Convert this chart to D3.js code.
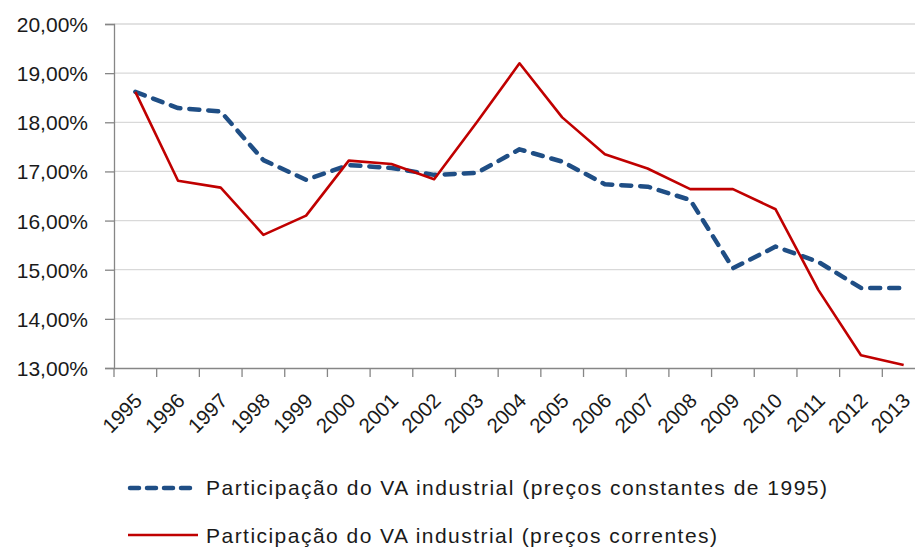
<!DOCTYPE html>
<html lang="pt">
<head>
    <meta charset="UTF-8">
    <title>Participação do VA industrial</title>
    <script src="https://d3js.org/d3.v7.min.js"></script>
    <style>
        body { margin: 0; background: #fff; }
        text { font-family: "Liberation Sans", Arial, sans-serif; fill: #1a1a1a; }
    </style>
</head>
<body>

<script>

    // data
    var years = ["1995","1996","1997","1998","1999","2000","2001","2002","2003","2004",
                 "2005","2006","2007","2008","2009","2010","2011","2012","2013"];
    var constantes = [18.62, 18.29, 18.22, 17.23, 16.83, 17.13, 17.07, 16.93, 16.97, 17.45,
                      17.20, 16.74, 16.69, 16.42, 15.03, 15.47, 15.16, 14.63, 14.63];
    var correntes = [18.62, 16.81, 16.67, 15.71, 16.10, 17.22, 17.15, 16.84, 18.00, 19.20,
                     18.10, 17.35, 17.06, 16.64, 16.64, 16.23, 14.59, 13.26, 13.06];
    var yTicks = [13, 14, 15, 16, 17, 18, 19, 20];
    var legendLabels = ["Participação do VA industrial (preços constantes de 1995)",
                        "Participação do VA industrial (preços correntes)"];
    var legendWidths = [621, 511];

    var xSize = 915;
    var ySize = 547;

    var svg = d3.select("body")
        .append("svg")
        .attr("width", xSize)
        .attr("height", ySize);

    // plot area runs past the right edge, like the cropped original
    var xScale = d3.scaleBand().domain(years).range([114, 925]);
    var yScale = d3.scaleLinear().domain([13, 20]).range([368, 24]);
    var bw = xScale.bandwidth();

    function cx(d) { return xScale(d) + bw / 2; }

    // gridlines
    svg.append("g").selectAll("line").data(yTicks.slice(1)).enter().append("line")
        .attr("x1", 114).attr("x2", 925)
        .attr("y1", function (d) { return yScale(d); })
        .attr("y2", function (d) { return yScale(d); })
        .attr("stroke", "#d9d9d9").attr("stroke-width", 1.3);

    // y axis
    var yAxis = d3.axisLeft(yScale).tickValues(yTicks).tickSize(9).tickPadding(17)
        .tickFormat(function (d) { return d3.format(".2f")(d).replace(".", ",") + "%"; });
    var gy = svg.append("g").attr("transform", "translate(114,0)").call(yAxis);
    gy.select(".domain").attr("stroke", "#868686").attr("stroke-width", 1.3);
    gy.selectAll(".tick line").attr("stroke", "#868686").attr("stroke-width", 1.3);
    gy.selectAll(".tick text").style("font-size", "21px").attr("fill", "#1a1a1a")
        .attr("dy", "0.36em");

    // x axis, ticks between categories
    var xAxis = d3.axisBottom(xScale).tickSize(0).tickSizeOuter(0).tickPadding(0);
    var gx = svg.append("g").attr("transform", "translate(0,368)").call(xAxis);
    gx.select(".domain").attr("stroke", "#868686").attr("stroke-width", 1.3);
    gx.selectAll(".tick").append("line")
        .attr("x1", -bw / 2).attr("x2", -bw / 2)
        .attr("y1", 0).attr("y2", 9)
        .attr("stroke", "#868686").attr("stroke-width", 1.3);
    gx.selectAll(".tick text")
        .style("font-size", "20.5px")
        .attr("text-anchor", "end")
        .attr("dy", 0)
        .attr("transform", "translate(8,34) rotate(-45)");

    var line = d3.line()
        .x(function (d, i) { return cx(years[i]); })
        .y(function (d) { return yScale(d); });

    svg.append("path").datum(constantes)
        .attr("d", line)
        .attr("fill", "none")
        .attr("stroke", "#1f4e85")
        .attr("stroke-width", 4.5)
        .attr("stroke-dasharray", "10,9")
        .attr("stroke-linecap", "round")
        .attr("stroke-linejoin", "round");

    svg.append("path").datum(correntes)
        .attr("d", line)
        .attr("fill", "none")
        .attr("stroke", "#c00000")
        .attr("stroke-width", 2.6)
        .attr("stroke-linejoin", "round");

    // legend
    var legend = svg.append("g");
    legend.append("line")
        .attr("x1", 130).attr("x2", 191).attr("y1", 488).attr("y2", 488)
        .attr("stroke", "#1f4e85").attr("stroke-width", 4.5)
        .attr("stroke-dasharray", "9,8").attr("stroke-linecap", "round");
    legend.append("line")
        .attr("x1", 128).attr("x2", 198).attr("y1", 535).attr("y2", 535)
        .attr("stroke", "#c00000").attr("stroke-width", 2.6);
    legend.selectAll("text").data(legendLabels).enter().append("text")
        .attr("x", 206)
        .attr("y", function (d, i) { return 495 + i * 48; })
        .attr("textLength", function (d, i) { return legendWidths[i]; })
        .attr("lengthAdjust", "spacing")
        .style("font-size", "21px")
        .text(function (d) { return d; });

</script>

</body>
</html>
